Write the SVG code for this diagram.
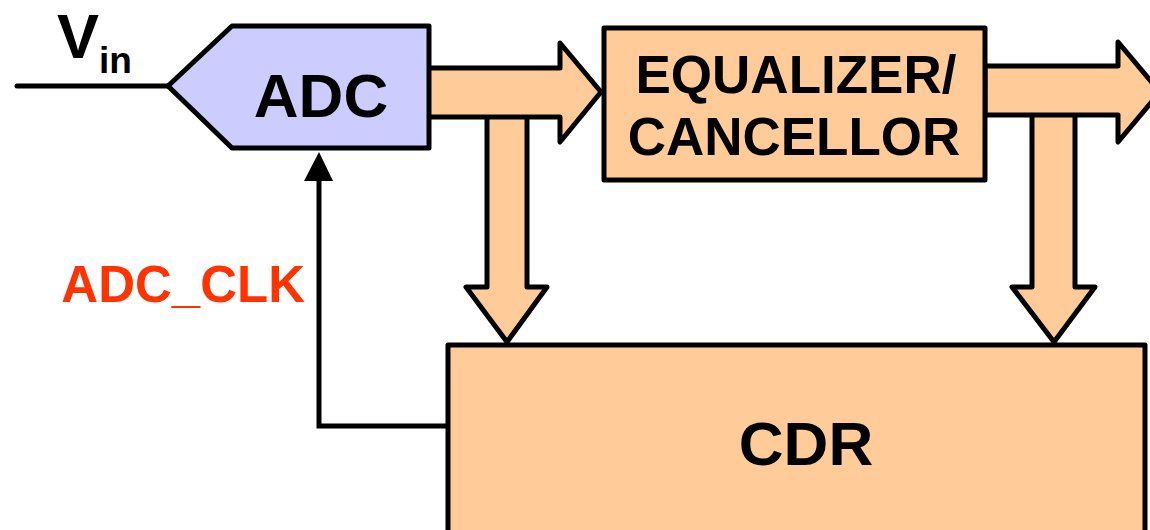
<svg xmlns="http://www.w3.org/2000/svg" width="1150" height="530" viewBox="0 0 1150 530">
<style>
.blk{stroke:#000;stroke-width:5;stroke-linejoin:round}
.or{fill:#ffcc99}
.t{font-family:"Liberation Sans",Arial,sans-serif;font-weight:bold;fill:#000}
.wire{fill:none;stroke:#000;stroke-width:5;stroke-linecap:round}
</style>
<g id="connectors">
<line class="wire" x1="17" y1="86" x2="168" y2="86"/>
<g id="down1"><path class="blk or" d="M487,110 L527,110 L527,287 L547,287 L507,342 L466,287 L487,287 Z"/></g>
<g id="down2"><path class="blk or" d="M1032,105 L1075,105 L1075,287 L1095,287 L1054,342 L1012,287 L1032,287 Z"/></g>
<g id="arrow1"><path class="blk or" d="M428,68 L560,68 L560,43 L601,92 L560,142 L560,117 L428,117 Z"/></g>
<g id="arrow2"><path class="blk or" d="M985,66 L1118,66 L1118,42 L1160,92 L1118,142 L1118,115 L985,115 Z"/></g>
<polyline points="448,426 319,426 319,180" fill="none" stroke="#000" stroke-width="5"/>
<path d="M304,181 L319,152 L333,181 Z" fill="#000"/>
</g>
<g id="vin">
<text class="t" x="57" y="58" font-size="63">V</text>
<text class="t" x="99" y="73" font-size="37">in</text>
</g>
<g id="adc">
<path class="blk" fill="#ccccff" d="M168,86 L232,26 L429,26 L429,148 L232,148 Z"/>
<text class="t" x="321" y="117" font-size="62" text-anchor="middle">ADC</text>
</g>
<g id="equalizer">
<rect class="blk or" x="604" y="28" width="381" height="152"/>
<text class="t" x="796" y="93" font-size="53" text-anchor="middle">EQUALIZER/</text>
<text class="t" x="794" y="155" font-size="53" text-anchor="middle">CANCELLOR</text>
</g>
<g id="cdr">
<rect class="blk or" x="448" y="345" width="697" height="200"/>
<text class="t" x="806" y="465" font-size="62" text-anchor="middle">CDR</text>
</g>
<g id="adcclk">
<text class="t" x="305" y="302" font-size="51" text-anchor="end" style="fill:#ff3300">ADC_CLK</text>
</g>
</svg>
